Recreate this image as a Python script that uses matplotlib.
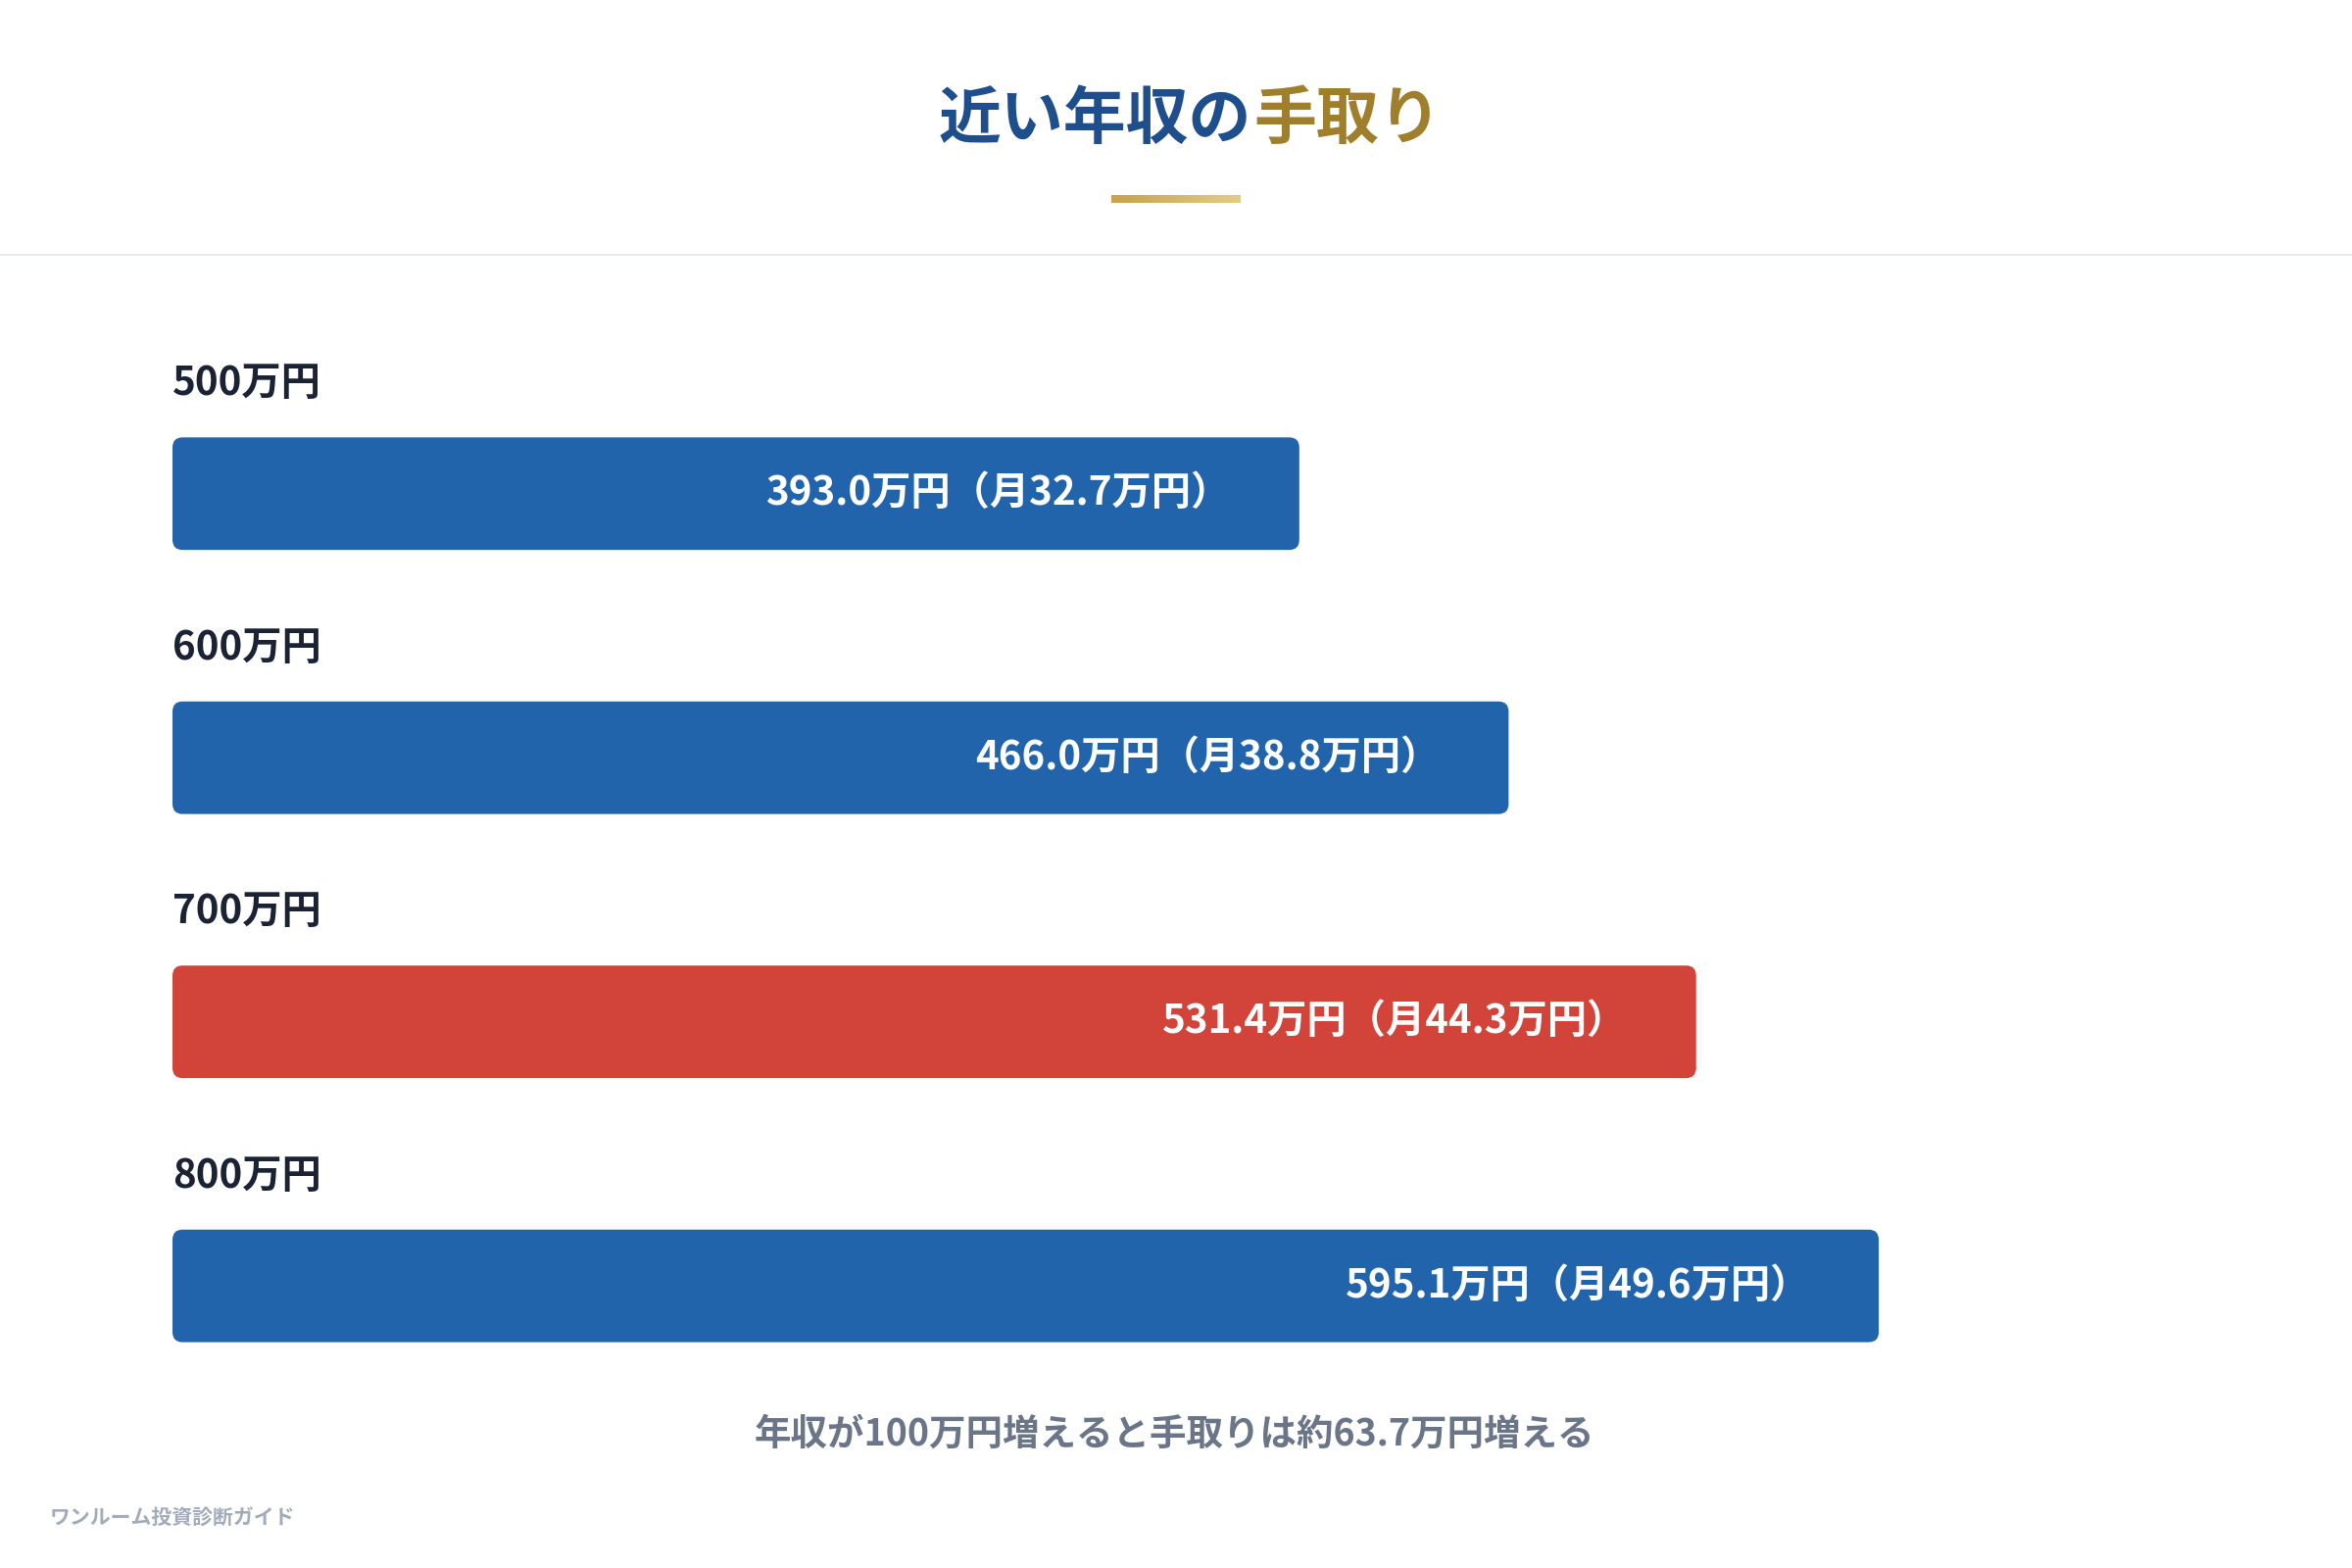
import matplotlib
matplotlib.use("Agg")
import matplotlib.pyplot as plt
from matplotlib.patches import FancyBboxPatch
import numpy as np

plt.rcParams['font.family'] = ['Noto Sans CJK JP', 'DejaVu Sans']

categories = ["500万円", "600万円", "700万円", "800万円"]
takehome = [393.0, 466.0, 531.4, 595.1]
monthly = [32.7, 38.8, 44.3, 49.6]
highlight = [False, False, True, False]
BLUE, RED = "#2164ab", "#d2433a"

W, H = 1568, 1045
fig = plt.figure(figsize=(24, 16), dpi=100)
fig.patch.set_facecolor("white")

def fx(x): return x / W
def fy(y): return 1 - y / H

fig.text(fx(834), fy(80), "近い年収の", ha="right", va="center", fontsize=46,
         fontweight="bold", color="#1f4e8c")
fig.text(fx(836), fy(80), "手取り", ha="left", va="center", fontsize=46,
         fontweight="bold", color="#a07f2c")
# underline gradient
grad = fig.add_axes([fx(741), fy(135), fx(827) - fx(741), (5 / H)])
grad.imshow(np.linspace(0, 1, 100)[None, :], aspect="auto",
            cmap=matplotlib.colors.LinearSegmentedColormap.from_list("g", ["#c9a24a", "#e3cc86"]))
grad.axis("off")
fig.add_artist(plt.Line2D([0, 1], [fy(170), fy(170)], color="#e6e8ec", lw=1.5))

ax = fig.add_axes([fx(115), fy(945), fx(1453) - fx(115), (945 - 241) / H])
ax.set_xlim(0, 700)
ax.set_ylim(3.5, -0.5)
ax.axis("off")
asp = (700 / 1338) ** -1 / 176  # y-units per x-unit in display sense
for i, (c, v, m, h) in enumerate(zip(categories, takehome, monthly, highlight)):
    bh = 75 / 176
    p = FancyBboxPatch((0, i - bh / 2), v, bh,
                       boxstyle="round,pad=0,rounding_size=3.5",
                       mutation_aspect=asp, fc=RED if h else BLUE, ec="none")
    ax.add_patch(p)
    ax.text(0, i - 0.415, c, ha="left", va="center", fontsize=29,
            fontweight="bold", color="#1a2233")
    ax.text(v - 24, i, f"{v:.1f}万円（月{m:.1f}万円）", ha="right", va="center",
            fontsize=29, fontweight="bold", color="white")

fig.text(fx(783), fy(956), "年収が100万円増えると手取りは約63.7万円増える",
         ha="center", va="center", fontsize=27, fontweight="bold", color="#6b7588")
fig.text(fx(33), fy(1012), "ワンルーム投資診断ガイド", ha="left", va="center",
         fontsize=15, fontweight="bold", color="#a3abba")

fig.savefig("out.png", dpi=100, facecolor="white")
